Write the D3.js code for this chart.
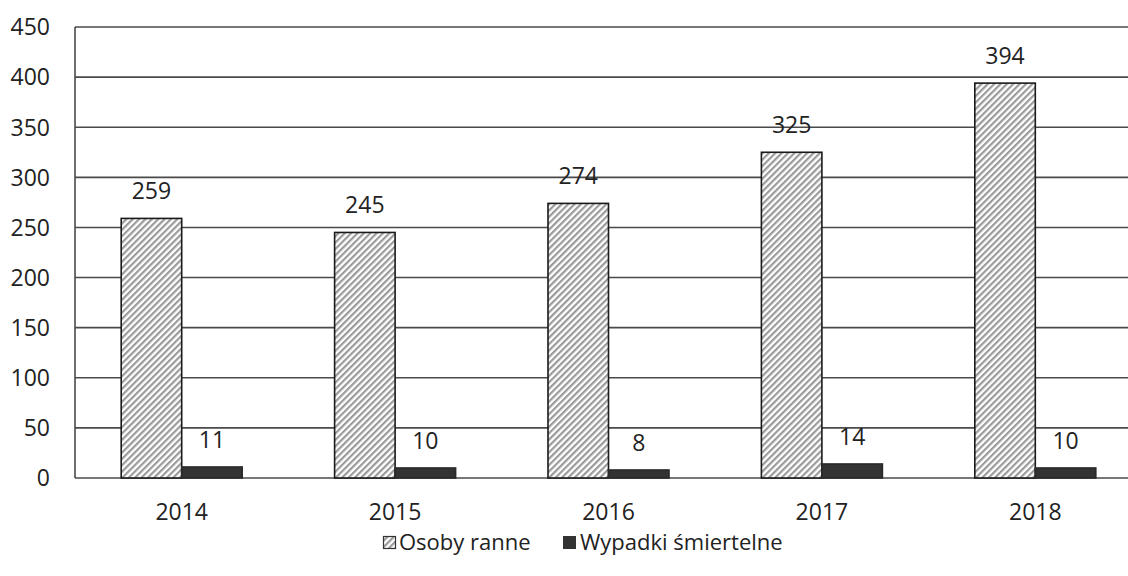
<!DOCTYPE html>
<html><head><meta charset="utf-8">
<script src="https://cdn.jsdelivr.net/npm/d3@7"></script>
<style>body{margin:0;background:#fff}svg{display:block}text{font-family:"Open Sans",sans-serif;fill:#222}</style>
</head><body><svg id="c" width="1128" height="576"></svg>
<script>
const years = ["2014","2015","2016","2017","2018"];
const seriesNames = ["Osoby ranne","Wypadki śmiertelne"];
const osobyRanne = [259,245,274,325,394];
const wypadkiSmiertelne = [11,10,8,14,10];
const yTicks = [0,50,100,150,200,250,300,350,400,450];

(function(){
const svg = d3.select("#c");
const pLeft = 75, pRight = 1142, pTop = 27, pBottom = 478;
const y = d3.scaleLinear().domain([0,450]).range([pBottom, pTop]);
const x0 = d3.scaleBand().domain(years).range([pLeft, pRight]).paddingInner(0.433).paddingOuter(0.2165);
const x1 = d3.scaleBand().domain(seriesNames).range([0, x0.bandwidth()]);

const defs = svg.append("defs");
const pat = defs.append("pattern").attr("id","hatch").attr("patternUnits","userSpaceOnUse")
  .attr("width",4.5).attr("height",4.5).attr("patternTransform","rotate(45)");
pat.append("rect").attr("width",4.5).attr("height",4.5).attr("fill","#fff");
pat.append("rect").attr("x",0).attr("width",2.2).attr("height",4.5).attr("fill","#9a9a9a");

// gridlines
svg.append("g").selectAll("line").data(yTicks).join("line")
  .attr("x1", pLeft).attr("x2", 1128).attr("y1", d=>y(d)).attr("y2", d=>y(d))
  .attr("stroke","#4a4a4a").attr("stroke-width",1.6);
svg.append("line").attr("x1",pLeft).attr("x2",pLeft).attr("y1",pTop).attr("y2",pBottom)
  .attr("stroke","#4a4a4a").attr("stroke-width",1.6);

// y labels
svg.append("g").selectAll("text").data(yTicks).join("text")
  .attr("x", 50).attr("y", d=>y(d)).attr("dy","0.36em").attr("text-anchor","end")
  .attr("font-size",23).text(d=>d);

// bars
const data = years.map((yr,i)=>({yr, vals:[osobyRanne[i], wypadkiSmiertelne[i]]}));
const g = svg.append("g").selectAll("g").data(data).join("g")
  .attr("transform", d=>`translate(${x0(d.yr)},0)`);
g.selectAll("rect").data(d=>d.vals.map((v,j)=>({v, s:seriesNames[j], j}))).join("rect")
  .attr("x", d=>x1(d.s)).attr("width", x1.bandwidth())
  .attr("y", d=>y(d.v)).attr("height", d=>y(0)-y(d.v))
  .attr("fill", d=>d.j===0 ? "url(#hatch)" : "#333")
  .attr("stroke", d=>d.j===0 ? "#1a1a1a" : "#2a2a2a").attr("stroke-width",1.6);
g.selectAll("text").data(d=>d.vals.map((v,j)=>({v, s:seriesNames[j], j}))).join("text")
  .attr("x", d=>x1(d.s)+x1.bandwidth()/2).attr("y", d=>y(d.v)-19)
  .attr("text-anchor","middle").attr("font-size",23).text(d=>d.v);

// x labels
svg.append("g").selectAll("text").data(years).join("text")
  .attr("x", d=>x0(d)+x0.bandwidth()/2).attr("y", 520).attr("text-anchor","middle")
  .attr("font-size",23).text(d=>d);

// legend
const leg = svg.append("g");
leg.append("rect").attr("x",383.5).attr("y",536.5).attr("width",12).attr("height",12)
  .attr("fill","url(#hatch)").attr("stroke","#333").attr("stroke-width",1.2);
leg.append("text").attr("x",399).attr("y",550).attr("font-size",22).text(seriesNames[0]);
leg.append("rect").attr("x",563).attr("y",536).attr("width",13).attr("height",13).attr("fill","#333");
leg.append("text").attr("x",580).attr("y",550).attr("font-size",22).text(seriesNames[1]);
})();
</script></body></html>
